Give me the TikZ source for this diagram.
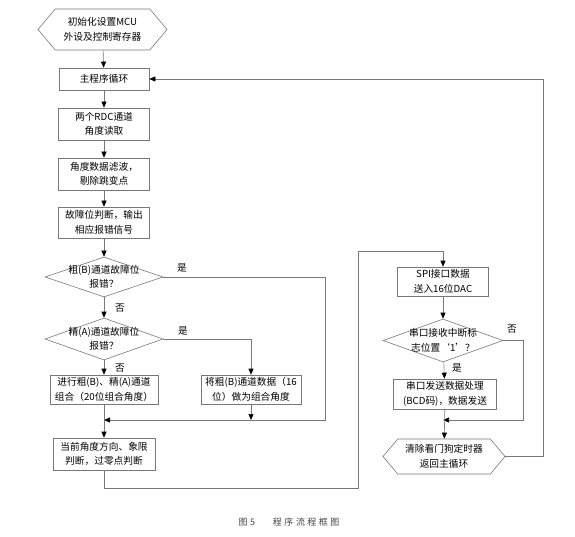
\documentclass[tikz,border=0pt]{standalone}
\usepackage{fontspec}
\setmainfont{Noto Sans CJK SC}
\usetikzlibrary{shapes.geometric,shapes.symbols,arrows.meta}
\definecolor{linegray}{RGB}{120,120,120}
\definecolor{capgray}{RGB}{70,70,70}
\begin{document}
\begin{tikzpicture}
[every node/.style={inner sep=0pt, font=\fontsize{9.7}{14.5}\selectfont, align=center},
 box/.style={rectangle, draw=linegray, line width=0.6pt},
 hexa/.style={signal, signal to=west and east, signal pointer angle=100, draw=linegray, line width=0.6pt},
 dia/.style={diamond, draw=linegray, line width=0.6pt},
 arr/.style={draw=linegray, line width=0.6pt, -{Triangle[length=6pt, width=5pt, color=black]}},
 wire/.style={draw=linegray, line width=0.6pt}]
\useasboundingbox (0pt, 0pt) rectangle (575pt, -537pt);
% left column
\node (init) [hexa, minimum width=129pt, minimum height=41pt] at (102.5pt, -29.5pt) {初始化设置MCU\\外设及控制寄存器};
\node (loop) [box, minimum width=90pt, minimum height=22pt] at (104pt, -79pt) {主程序循环};
\node (rdc) [box, minimum width=91pt, minimum height=32pt] at (104pt, -124pt) {两个RDC通道\\角度读取};
\node (filt) [box, minimum width=91pt, minimum height=32pt] at (104pt, -174pt) {角度数据滤波，\\剔除跳变点};
\node (fault) [box, minimum width=91pt, minimum height=31pt] at (104pt, -222.5pt) {故障位判断，输出\\相应报错信号};
\node (d1) [dia, minimum width=118pt, minimum height=40pt] at (104pt, -277pt) {};
\node (d1t) at (d1.center) {粗(B)通道故障位\\报错？};
\node (d2) [dia, minimum width=118pt, minimum height=42pt] at (104pt, -339pt) {};
\node (d2t) at (d2.center) {精(A)通道故障位\\报错？};
\node (comb) [box, minimum width=108pt, minimum height=29pt] at (104pt, -389.5pt) {进行粗(B)、精(A)通道\\组合（20位组合角度）};
\node (coarse) [box, minimum width=100pt, minimum height=29pt] at (251pt, -389.5pt) {将粗(B)通道数据（16\\位）做为组合角度};
\node (quad) [box, minimum width=102pt, minimum height=32pt] at (104pt, -454pt) {当前角度方向、象限\\判断，过零点判断};
% right column
\node (spi) [box, minimum width=91pt, minimum height=29pt] at (443pt, -281.5pt) {SPI接口数据\\送入16位DAC};
\node (d3) [dia, minimum width=120pt, minimum height=43pt] at (443pt, -340.5pt) {};
\node (d3t) at (d3.center) {串口接收中断标\\志位置‘1’？};
\node (ser) [box, minimum width=103pt, minimum height=30pt] at (445pt, -394pt) {串口发送数据处理\\(BCD码)，数据发送};
\node (fin) [hexa, minimum width=122pt, minimum height=35pt] at (444pt, -456.5pt) {清除看门狗定时器\\返回主循环};
% branch labels
\node (y1) at (182pt, -268pt) {是};
\node (n1) at (120pt, -308pt) {否};
\node (y2) at (183pt, -331pt) {是};
\node (n2) at (120pt, -368pt) {否};
\node (n3) at (512pt, -329pt) {否};
\node (y3) at (457pt, -368pt) {是};
% bends
\coordinate (m1) at (104pt, -420pt);
\coordinate (r1) at (325pt, -277pt);
\coordinate (m2) at (coarse.south |- m1);
\coordinate (b1) at (358pt, -488pt);
\coordinate (b2) at (358pt, -251pt);
\coordinate (m3) at (443pt, -420pt);
\coordinate (r3) at (523pt, -340.5pt);
\coordinate (r4) at (543pt, -456.5pt);
\draw [arr] (init) -- (loop);
\draw [arr] (loop) -- (rdc);
\draw [arr] (rdc) -- (filt);
\draw [arr] (filt) -- (fault);
\draw [arr] (fault) -- (d1);
\draw [arr] (d1) -- (d2);
\draw [arr] (d1.east) -- (r1) |- (m1);
\draw [arr] (d2.east) -| (coarse.north);
\draw [arr] (d2) -- (comb);
\draw [arr] (comb) -- (quad);
\draw [arr] (coarse.south) -- (m2);
\draw [arr] (quad.south) |- (b1) -- (b2) -| (spi.north);
\draw [arr] (spi) -- (d3);
\draw [arr] (d3) -- (ser);
\draw [arr] (d3.east) -- (r3) |- (m3);
\draw [arr] (ser) -- (fin);
\draw [arr] (fin.east) -- (r4) |- (loop.east);
% caption
\node (cap) [text=capgray, font=\fontsize{9}{10}\selectfont] at (289pt, -522pt) {图\;5\qquad 程\;序\;流\;程\;框\;图};
\end{tikzpicture}
\end{document}
